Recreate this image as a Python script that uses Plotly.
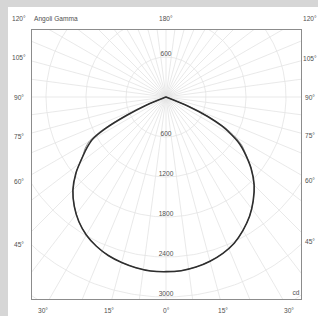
import numpy as np
import plotly.graph_objects as go

# ---------------- data ----------------
gamma = [0, 5, 10, 15, 20, 25, 30, 35, 40, 45, 50, 55, 57.5, 60, 62.5, 65, 67.5, 70, 72.5, 75, 80, 85, 90]
# C0-C180 plane (main curve)  left = C180, right = C0
c180 = [2620, 2620, 2600, 2570, 2530, 2470, 2390, 2280, 2140, 1975, 1760, 1510, 1400, 1280, 1020, 640, 330, 40, 0, 0, 0, 0, 0]
c0 = [2620, 2615, 2590, 2550, 2495, 2420, 2310, 2185, 2035, 1870, 1665, 1430, 1310, 1140, 950, 690, 360, 50, 0, 0, 0, 0, 0]
# C90-C270 plane (second curve)
c270 = [2620, 2620, 2600, 2570, 2530, 2470, 2390, 2280, 2140, 1975, 1760, 1520, 1440, 1330, 1090, 720, 350, 40, 0, 0, 0, 0, 0]
c90 = [2620, 2615, 2590, 2550, 2495, 2420, 2310, 2185, 2035, 1870, 1670, 1450, 1350, 1200, 1010, 730, 380, 50, 0, 0, 0, 0, 0]

radial_ticks = [600, 1200, 1800, 2400, 3000]
grid_circles = [600, 1200, 1800, 2400, 3000, 3600, 4200]
side_angles = [120, 105, 90, 75, 60, 45]
bottom_angles = [30, 15, 0]
top_angle = 180
unit_label = "cd"
title_label = "Angoli Gamma"

# ---------------- geometry (figure pixels) ----------------
W, H = 318, 316
CX, CY = 166, 97
L, R, T, B = 32, 301, 30, 299
S = 15.0  # cd per pixel


def px2x(px):
    return (px - CX) * S


def py2y(py):
    return (CY - py) * S


def pxpaper(px):
    return (px - L) / (R - L)


def pypaper(py):
    return (B - py) / (B - T)


xr = [px2x(L), px2x(R)]
yr = [py2y(B), py2y(T)]


def curve(left, right):
    g = np.radians(gamma)
    li = np.array(left, float)
    ri = np.array(right, float)
    xl = -li * np.sin(g)
    yl = -li * np.cos(g)
    xrr = ri * np.sin(g)
    yrr = -ri * np.cos(g)
    x = np.concatenate([xl[::-1], xrr[1:]])
    y = np.concatenate([yl[::-1], yrr[1:]])
    return x, y


fig = go.Figure()

GRID = "#e3e3e3"
th = np.linspace(0, 2 * np.pi, 361)
for r in grid_circles:
    fig.add_trace(go.Scatter(x=r * np.sin(th), y=r * np.cos(th), mode="lines",
                             line=dict(color=GRID, width=0.8), hoverinfo="skip", showlegend=False))
for a in np.arange(0, 360, 7.5):
    ar = np.radians(a)
    fig.add_trace(go.Scatter(x=[0, 6000 * np.sin(ar)], y=[0, -6000 * np.cos(ar)], mode="lines",
                             line=dict(color=GRID, width=0.8), hoverinfo="skip", showlegend=False))

x2, y2 = curve(c270, c90)
fig.add_trace(go.Scatter(x=x2, y=y2, mode="lines",
                         line=dict(color="#7a7a7a", width=0.8, shape="spline", smoothing=0.6),
                         hoverinfo="skip", showlegend=False))
x1, y1 = curve(c180, c0)
fig.add_trace(go.Scatter(x=x1, y=y1, mode="lines",
                         line=dict(color="#2e2e2e", width=1.6, shape="spline", smoothing=0.6),
                         hoverinfo="skip", showlegend=False))

FONT = dict(family="Liberation Sans, Arial, sans-serif", size=6.6, color="#505050")

# radial value labels (inside the box)
rx = [0] * (len(radial_ticks) + 1)
ry = [radial_ticks[0] + 3 * S] + [-r + 3 * S for r in radial_ticks]
rt = [str(radial_ticks[0])] + [str(r) for r in radial_ticks]
fig.add_trace(go.Scatter(x=rx, y=ry, text=rt, mode="text", textfont=FONT, textposition="middle center",
                         hoverinfo="skip", showlegend=False))
fig.add_trace(go.Scatter(x=[px2x(296)], y=[py2y(293)], text=[unit_label], mode="text",
                         textfont=FONT, textposition="middle center", hoverinfo="skip", showlegend=False))

# angle labels outside the box (annotations, paper coordinates)
LEFT_PX, RIGHT_PX, TOP_PX, BOT_PX = 19, 310, 19, 310
labels = []
for g in side_angles:
    for side_px in (LEFT_PX, RIGHT_PX):
        d = abs(side_px - CX)
        py = CY if g == 90 else CY + d / np.tan(np.radians(g))
        py = min(max(py, TOP_PX), BOT_PX)
        labels.append((side_px, py, f"{g}°"))
for g in bottom_angles:
    d = (BOT_PX - CY) * np.tan(np.radians(g))
    for sgn in ((-1, 1) if g != 0 else (1,)):
        labels.append((CX + sgn * d, BOT_PX, f"{g}°"))
labels.append((CX, TOP_PX, f"{top_angle}°"))
for px, py, txt in labels:
    fig.add_annotation(text=txt, xref="paper", yref="paper", x=pxpaper(px), y=pypaper(py),
                       xanchor="center", yanchor="middle", showarrow=False, font=FONT)

fig.add_annotation(text=title_label, xref="paper", yref="paper", x=pxpaper(L), y=pypaper(TOP_PX),
                   xanchor="left", yanchor="middle", showarrow=False, font=FONT)

# white sheet on a grey page (as in the reference)
fig.add_shape(type="rect", xref="paper", yref="paper",
              x0=pxpaper(8), x1=pxpaper(W + 2), y0=pypaper(H + 2), y1=pypaper(7),
              fillcolor="white", line=dict(width=0), layer="below")

ax = dict(showgrid=False, zeroline=False, showticklabels=False, ticks="",
          showline=True, linecolor="#8c8c8c", linewidth=1, mirror=True, fixedrange=True)
fig.update_xaxes(range=xr, **ax)
fig.update_yaxes(range=yr, **ax)

fig.update_layout(width=W, height=H, margin=dict(l=L, r=W - R, t=T, b=H - B),
                  paper_bgcolor="#d6d6d6", plot_bgcolor="white", showlegend=False)

# remove the default page margin so the figure sits at the window origin
fig.write_html("out.html", config={"displayModeBar": False},
               post_script="document.body.style.margin='0';document.body.style.overflow='hidden';")
